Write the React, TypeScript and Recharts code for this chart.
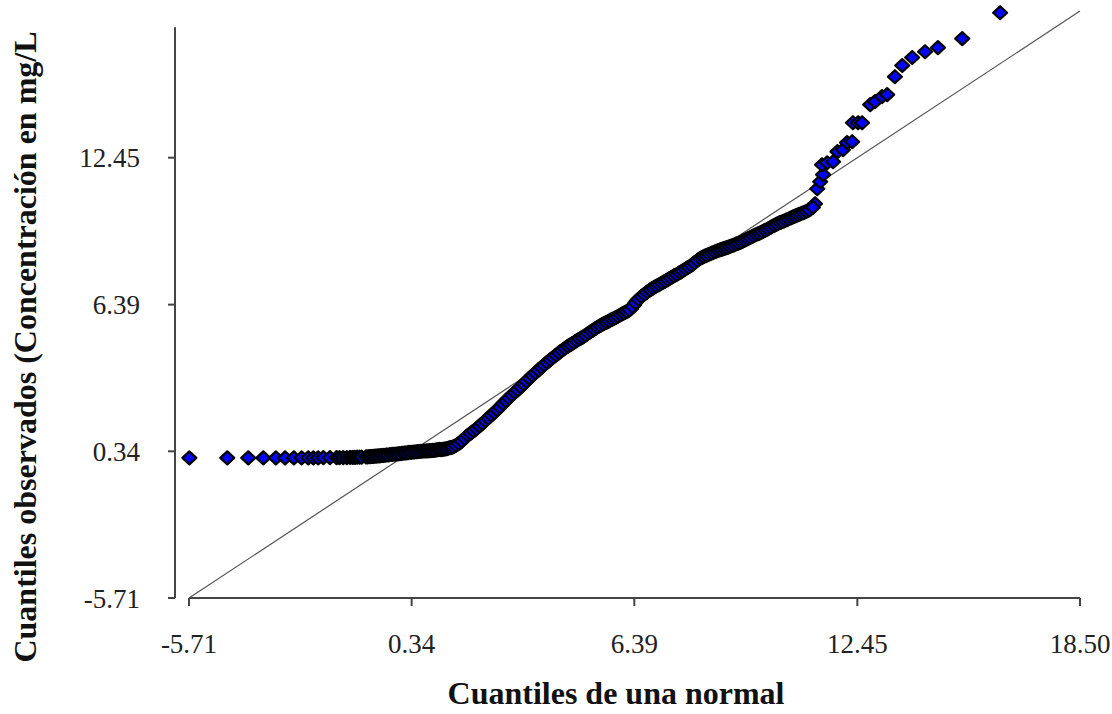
import React from 'react';
import { ScatterChart, Scatter, XAxis, YAxis, ReferenceLine, Label } from 'recharts';

const normalQuantiles = [
  -5.70, -4.67, -4.10, -3.69, -3.35, -3.10, -2.86, -2.65, -2.47, -2.33, -2.20, -2.06, -1.88, -1.70, -1.62,
  -1.52, -1.42, -1.33, -1.26, -1.20, -1.14, -1.08, -1.02,
  -0.90, -0.82, -0.74, -0.66, -0.58, -0.50, -0.42, -0.34, -0.26, -0.18, -0.10, -0.02, 0.06, 0.14, 0.22,
  0.30, 0.38, 0.46, 0.54, 0.62, 0.70, 0.78, 0.86, 0.94, 1.02, 1.10,
  1.18, 1.26, 1.34, 1.42, 1.50, 1.58, 1.66, 1.74, 1.82, 1.90, 1.98, 2.06, 2.14, 2.22, 2.30, 2.38, 2.46,
  2.54, 2.62, 2.70, 2.78, 2.86, 2.94, 3.02, 3.10, 3.18, 3.26, 3.34, 3.42, 3.50, 3.58, 3.66, 3.74, 3.82,
  3.90, 3.98, 4.06, 4.14, 4.22, 4.30, 4.38, 4.46, 4.54, 4.62, 4.70, 4.78, 4.86, 4.94, 5.02, 5.10, 5.18,
  5.26, 5.34, 5.42, 5.50, 5.58, 5.66, 5.74, 5.82, 5.90, 5.98, 6.06, 6.14, 6.22, 6.30, 6.38, 6.46, 6.54,
  6.62, 6.70, 6.78, 6.86, 6.94, 7.02, 7.10, 7.18, 7.26, 7.34, 7.42, 7.50, 7.58, 7.66, 7.74, 7.82, 7.90,
  7.98, 8.06, 8.14, 8.22, 8.30, 8.38, 8.46, 8.54, 8.62, 8.70, 8.78, 8.86, 8.94, 9.02, 9.10, 9.18, 9.26,
  9.34, 9.42, 9.50, 9.58, 9.66, 9.74, 9.82, 9.90, 9.98, 10.06, 10.14, 10.22, 10.30, 10.38, 10.46, 10.54,
  10.62, 10.70, 10.78, 10.86, 10.94, 11.02, 11.10, 11.18, 11.30,
  11.36, 11.44, 11.52, 11.49, 11.63, 11.79, 11.91, 12.06, 12.17, 12.31, 12.33, 12.47, 12.58, 12.80, 12.93,
  13.12, 13.26, 13.47, 13.67, 13.94, 14.29, 14.64, 15.30, 16.33,
];

const observedQuantiles = [
  0.07, 0.07, 0.07, 0.07, 0.07, 0.07, 0.07, 0.07, 0.07, 0.07, 0.07, 0.08, 0.08, 0.08, 0.08,
  0.08, 0.08, 0.09, 0.09, 0.09, 0.10, 0.10, 0.10,
  0.11, 0.12, 0.13, 0.14, 0.15, 0.16, 0.17, 0.19, 0.20, 0.21, 0.22, 0.24, 0.25, 0.27, 0.28,
  0.30, 0.31, 0.32, 0.33, 0.34, 0.35, 0.36, 0.37, 0.38, 0.40, 0.42,
  0.42, 0.44, 0.47, 0.50, 0.55, 0.62, 0.70, 0.82, 0.94, 1.04, 1.13, 1.22, 1.33, 1.43, 1.54, 1.66, 1.77,
  1.88, 1.99, 2.11, 2.23, 2.36, 2.48, 2.60, 2.71, 2.82, 2.93, 3.05, 3.17, 3.29, 3.41, 3.52, 3.63, 3.74,
  3.85, 3.96, 4.06, 4.16, 4.26, 4.35, 4.45, 4.54, 4.63, 4.71, 4.78, 4.86, 4.94, 5.01, 5.08, 5.17, 5.25,
  5.33, 5.41, 5.49, 5.56, 5.62, 5.68, 5.75, 5.81, 5.87, 5.94, 6.01, 6.07, 6.13, 6.22, 6.38, 6.55, 6.66,
  6.77, 6.87, 6.96, 7.04, 7.11, 7.18, 7.25, 7.32, 7.39, 7.46, 7.53, 7.60, 7.67, 7.74, 7.82, 7.90, 7.97,
  8.06, 8.16, 8.26, 8.33, 8.39, 8.44, 8.49, 8.54, 8.59, 8.64, 8.68, 8.72, 8.76, 8.81, 8.85, 8.90, 8.95,
  9.01, 9.07, 9.13, 9.19, 9.25, 9.31, 9.36, 9.42, 9.48, 9.55, 9.62, 9.68, 9.74, 9.79, 9.84, 9.89,
  9.95, 10.01, 10.06, 10.11, 10.16, 10.20, 10.26, 10.33, 10.55,
  11.17, 11.46, 11.75, 12.16, 12.24, 12.28, 12.70, 12.78, 13.07, 13.11, 13.89, 13.89, 13.89, 14.64, 14.76,
  14.97, 15.05, 15.79, 16.25, 16.58, 16.82, 16.99, 17.36, 18.43,
];

// the many overlapping observations in the dense band
const bandNormal = [
  -0.86, -0.78, -0.70, -0.62, -0.54, -0.46, -0.38, -0.30, -0.22, -0.14, -0.06, 0.02, 0.10, 0.18, 0.26,
  0.34, 0.42, 0.50, 0.58, 0.66, 0.74, 0.82, 0.90, 0.98, 1.06,
  1.14, 1.22, 1.30, 1.38, 1.46, 1.54, 1.62, 1.70, 1.78, 1.86, 1.94, 2.02, 2.10, 2.18, 2.26, 2.34, 2.42,
  2.50, 2.58, 2.66, 2.74, 2.82, 2.90, 2.98, 3.06, 3.14, 3.22, 3.30, 3.38, 3.46, 3.54, 3.62, 3.70, 3.78,
  3.86, 3.94, 4.02, 4.10, 4.18, 4.26, 4.34, 4.42, 4.50, 4.58, 4.66, 4.74, 4.82, 4.90, 4.98, 5.06, 5.14,
  5.22, 5.30, 5.38, 5.46, 5.54, 5.62, 5.70, 5.78, 5.86, 5.94, 6.02, 6.10, 6.18, 6.26, 6.34, 6.42, 6.50,
  6.58, 6.66, 6.74, 6.82, 6.90, 6.98, 7.06, 7.14, 7.22, 7.30, 7.38, 7.46, 7.54, 7.62, 7.70, 7.78, 7.86,
  7.94, 8.02, 8.10, 8.18, 8.26, 8.34, 8.42, 8.50, 8.58, 8.66, 8.74, 8.82, 8.90, 8.98, 9.06, 9.14, 9.22,
  9.30, 9.38, 9.46, 9.54, 9.62, 9.70, 9.78, 9.86, 9.94, 10.02, 10.10, 10.18, 10.26, 10.34, 10.42, 10.50,
  10.58, 10.66, 10.74, 10.82, 10.90, 10.98, 11.06, 11.14, 11.24,
];

const bandObserved = [
  0.11, 0.12, 0.13, 0.14, 0.15, 0.17, 0.18, 0.19, 0.21, 0.22, 0.23, 0.24, 0.26, 0.27, 0.29,
  0.30, 0.31, 0.33, 0.34, 0.35, 0.36, 0.37, 0.38, 0.39, 0.41,
  0.41, 0.43, 0.45, 0.49, 0.52, 0.58, 0.66, 0.76, 0.88, 0.99, 1.08, 1.18, 1.27, 1.38, 1.49, 1.60, 1.71,
  1.83, 1.93, 2.05, 2.17, 2.30, 2.42, 2.54, 2.66, 2.77, 2.87, 2.99, 3.11, 3.23, 3.35, 3.47, 3.57, 3.69,
  3.80, 3.90, 4.01, 4.11, 4.21, 4.30, 4.40, 4.50, 4.58, 4.67, 4.74, 4.82, 4.90, 4.97, 5.04, 5.12, 5.21,
  5.29, 5.37, 5.45, 5.52, 5.59, 5.65, 5.71, 5.78, 5.84, 5.90, 5.97, 6.04, 6.10, 6.17, 6.30, 6.47, 6.61,
  6.72, 6.82, 6.91, 7.00, 7.07, 7.15, 7.21, 7.28, 7.35, 7.42, 7.50, 7.57, 7.63, 7.71, 7.78, 7.86, 7.93,
  8.01, 8.11, 8.21, 8.30, 8.36, 8.41, 8.47, 8.52, 8.57, 8.62, 8.66, 8.70, 8.74, 8.78, 8.83, 8.88, 8.92,
  8.98, 9.04, 9.10, 9.16, 9.22, 9.28, 9.33, 9.39, 9.45, 9.51, 9.58, 9.65, 9.71, 9.77, 9.82, 9.87,
  9.92, 9.98, 10.03, 10.08, 10.13, 10.18, 10.23, 10.29, 10.40,
];

const xTicks = [-5.71, 0.34, 6.39, 12.45, 18.5];
const yTicks = [-5.71, 0.34, 6.39, 12.45];
const axisMin = -5.71;
const axisMax = 18.5;
const yAxisTop = 17.83;

const data = [
  ...normalQuantiles.map((x, i) => ({ x, y: observedQuantiles[i] })),
  ...bandNormal.map((x, i) => ({ x, y: bandObserved[i] })),
];

const FONT = '"Liberation Serif", "Times New Roman", serif';

const Diamond = (props: any) => {
  const { cx, cy } = props;
  if (cx == null || cy == null) return null;
  return (
    <polygon
      points={`${cx},${cy - 6.5} ${cx + 7},${cy} ${cx},${cy + 6.5} ${cx - 7},${cy}`}
      fill="#0000ff"
      stroke="#000"
      strokeWidth={2.2}
      strokeLinejoin="round"
    />
  );
};

export default function App() {
  const tickStyle = { fontSize: 27, fontFamily: FONT, fill: '#222' };
  return (
    <div style={{ position: 'absolute', left: 0, top: 0, background: '#fff' }}>
      <ScatterChart width={1112} height={714} margin={{ top: 11, right: 32, bottom: 0, left: 0 }}>
        <XAxis
          type="number"
          dataKey="x"
          domain={[axisMin, axisMax]}
          ticks={xTicks}
          tickFormatter={(v: number) => v.toFixed(2)}
          padding={{ left: 14, right: 0 }}
          axisLine={false}
          tickLine={{ stroke: '#444', strokeWidth: 2 }}
          tickSize={8}
          tickMargin={28}
          height={116}
          tick={tickStyle}
          interval={0}
        >
          <Label
            content={() => (
              <text x={616} y={704} textAnchor="middle" fontFamily={FONT} fontWeight="bold" fontSize={32} fill="#111">
                Cuantiles de una normal
              </text>
            )}
          />
        </XAxis>
        <YAxis
          type="number"
          dataKey="y"
          domain={[axisMin, axisMax]}
          ticks={yTicks}
          tickFormatter={(v: number) => v.toFixed(2)}
          axisLine={false}
          tickLine={{ stroke: '#444', strokeWidth: 2 }}
          tickSize={7}
          tickMargin={28}
          width={175}
          tick={tickStyle}
          interval={0}
        >
          <Label
            content={() => (
              <text
                x={36}
                y={347}
                transform="rotate(-90 36 347)"
                textAnchor="middle"
                fontFamily={FONT}
                fontWeight="bold"
                fontSize={32}
                fill="#111"
              >
                Cuantiles observados (Concentración en mg/L
              </text>
            )}
          />
        </YAxis>
        <ReferenceLine
          segment={[{ x: axisMin, y: axisMin }, { x: axisMax, y: axisMin }]}
          stroke="#444"
          strokeWidth={2}
          ifOverflow="visible"
        />
        <ReferenceLine
          segment={[{ x: axisMin - 0.38, y: axisMin }, { x: axisMin - 0.38, y: yAxisTop }]}
          stroke="#444"
          strokeWidth={2}
          ifOverflow="visible"
        />
        <ReferenceLine
          segment={[{ x: axisMin, y: axisMin }, { x: axisMax, y: axisMax }]}
          stroke="#555"
          strokeWidth={1.2}
          ifOverflow="visible"
        />
        <Scatter data={data} shape={Diamond} isAnimationActive={false} />
      </ScatterChart>
    </div>
  );
}
